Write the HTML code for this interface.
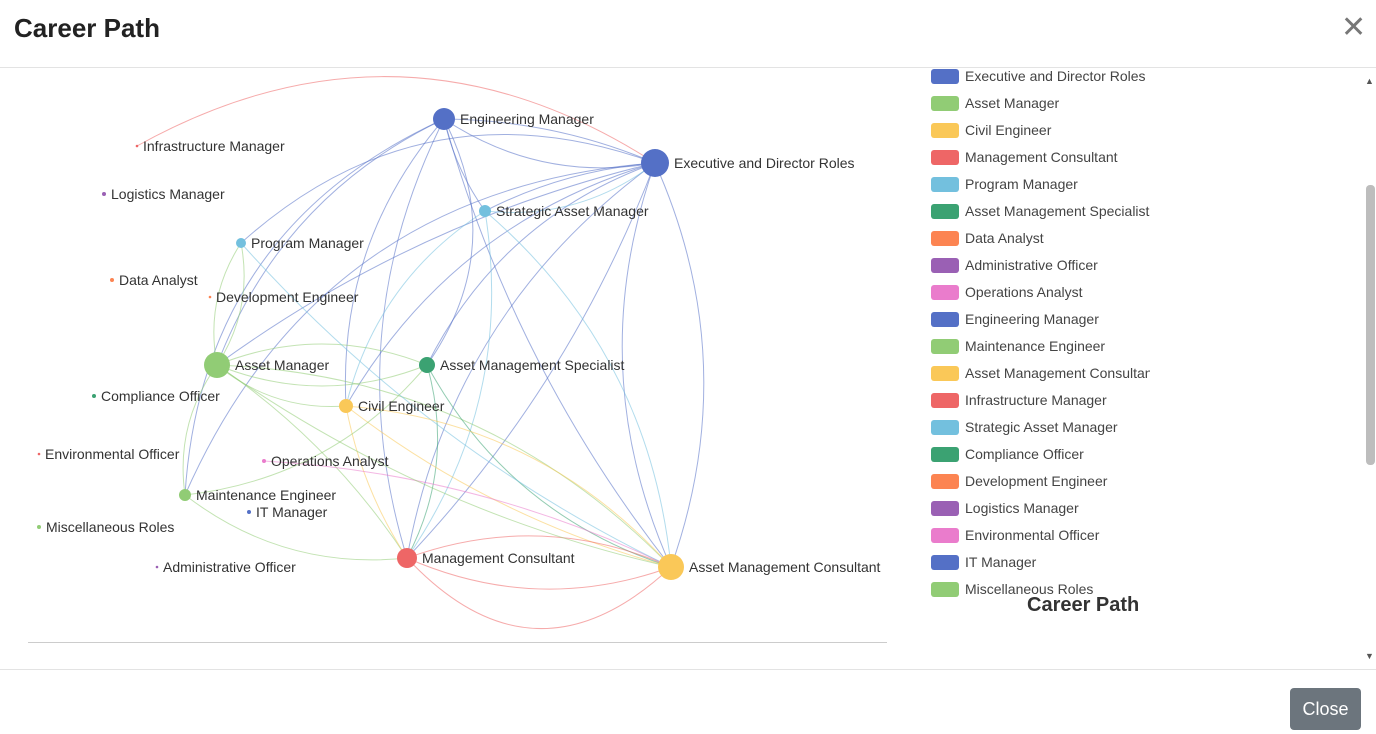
<!DOCTYPE html>
<html><head><meta charset="utf-8"><style>
body{margin:0;width:1376px;height:734px;background:#fff;font-family:"Liberation Sans",sans-serif;position:relative;overflow:hidden}
.t{position:absolute;left:14px;top:13px;font-size:26px;font-weight:bold;color:#222}
.x{position:absolute;left:1341px;top:10px;font-size:30px;color:#777;font-weight:normal;font-family:"DejaVu Sans",sans-serif}
.hl{position:absolute;left:0;right:0;height:1px;background:#e3e3e3}
.btn{position:absolute;left:1290px;top:688px;width:71px;height:42px;background:#6c757d;color:#fff;font-size:18px;line-height:42px;text-align:center;border-radius:4px}
.lg{position:absolute;left:931px;font-size:14px;color:#444;white-space:nowrap;width:219px;overflow:hidden}
.lg i{display:inline-block;width:28px;height:15px;border-radius:3px;vertical-align:-3px;margin-right:6px}
.sb{position:absolute;left:1366px;top:185px;width:9px;height:280px;background:#bdbdbd;border-radius:4px}
</style></head><body>
<div class="t">Career Path</div><div class="x">✕</div>
<div class="hl" style="top:67px"></div><div class="hl" style="top:669px"></div>
<div style="position:absolute;left:28px;top:642px;width:859px;height:1px;background:#ccc"></div>
<svg id="g" width="900" height="640" style="position:absolute;left:0;top:0" font-family="Liberation Sans, sans-serif" font-size="14" fill="#333"></svg>
<div id="leg"></div>
<div style="position:absolute;left:1027px;top:594px;font-size:20px;font-weight:bold;color:#333">Career Path</div>
<div class="sb"></div>
<div style="position:absolute;left:1365px;top:76px;font-size:9px;color:#555">▲</div>
<div style="position:absolute;left:1365px;top:651px;font-size:9px;color:#555">▼</div>
<div class="btn">Close</div>
<script>
var C={b:"#5470c6",g:"#91cc75",y:"#fac858",r:"#ee6666",l:"#73c0de",d:"#3ba272",o:"#fc8452",p:"#9a60b4",k:"#ea7ccc"};
var N={EM:[444,119,11,"b","Engineering Manager"],EX:[655,163,14,"b","Executive and Director Roles"],SAM:[485,211,6,"l","Strategic Asset Manager"],PM:[241,243,5,"l","Program Manager"],AM:[217,365,13,"g","Asset Manager"],AMS:[427,365,8,"d","Asset Management Specialist"],CE:[346,406,7,"y","Civil Engineer"],OA:[264,461,2,"k","Operations Analyst"],ME:[185,495,6,"g","Maintenance Engineer"],IT:[249,512,2,"b","IT Manager"],MC:[407,558,10,"r","Management Consultant"],AMC:[671,567,13,"y","Asset Management Consultant"],IM:[137,146,1,"r","Infrastructure Manager"],LM:[104,194,2,"p","Logistics Manager"],DA:[112,280,2,"o","Data Analyst"],DE:[210,297,1,"o","Development Engineer"],CO:[94,396,2,"d","Compliance Officer"],EO:[39,454,1,"r","Environmental Officer"],MR:[39,527,2,"g","Miscellaneous Roles"],AO:[157,567,1,"p","Administrative Officer"]};
var E=[["IM","EX",-.3],["EM","EX",.2],["EM","EX",-.1],["EM","SAM",.1],["EM","MC",.2],["EM","AMC",.1],["EM","AM",.2],["EM","CE",.2],["EM","ME",.3],["EX","AMC",-.2],["EX","MC",-.1],["EX","AM",.1],["EX","PM",.3],["EX","SAM",.1],["EX","AMS",.2],["EX","CE",.2],["EX","MC",.2],["EX","ME",.3],["EX","AMC",.2],["SAM","AMC",-.2],["SAM","MC",-.2],["SAM","CE",.2],["SAM","EX",.2],["AM","AMS",.2],["AM","AMS",-.2],["AM","AMC",-.2],["AM","MC",-.1],["AM","ME",.2],["AM","PM",-.2],["AM","PM",.2],["AM","CE",.2],["AMS","MC",-.2],["AMS","AMC",.2],["CE","AMC",.1],["CE","MC",.1],["MC","AMC",.2],["MC","AMC",-.2],["MC","AMC",.5],["OA","AMC",-.1],["ME","MC",.2],["PM","AMC",.1],["ME","AMS",.2],["EM","AMS",-.3],["CE","AMC",-.2],["AM","AMC",.1]];
var s="";
E.forEach(function(e){var a=N[e[0]],b=N[e[1]],mx=(a[0]+b[0])/2,my=(a[1]+b[1])/2,dx=b[0]-a[0],dy=b[1]-a[1];var cx=mx-dy*e[2],cy=my+dx*e[2];s+='<path d="M'+a[0]+' '+a[1]+'Q'+cx+' '+cy+' '+b[0]+' '+b[1]+'" stroke="'+C[a[3]]+'" stroke-opacity=".55" fill="none" stroke-width="1"/>';});
for(var k in N){var n=N[k];s+='<circle cx="'+n[0]+'" cy="'+n[1]+'" r="'+Math.max(n[2],1.3)+'" fill="'+C[n[3]]+'"/><text x="'+(n[0]+n[2]+5)+'" y="'+(n[1]+5)+'">'+n[4]+'</text>';}
document.getElementById("g").innerHTML=s;
var L=[["b","Executive and Director Roles"],["g","Asset Manager"],["y","Civil Engineer"],["r","Management Consultant"],["l","Program Manager"],["d","Asset Management Specialist"],["o","Data Analyst"],["p","Administrative Officer"],["k","Operations Analyst"],["b","Engineering Manager"],["g","Maintenance Engineer"],["y","Asset Management Consultant"],["r","Infrastructure Manager"],["l","Strategic Asset Manager"],["d","Compliance Officer"],["o","Development Engineer"],["p","Logistics Manager"],["k","Environmental Officer"],["b","IT Manager"],["g","Miscellaneous Roles"]];
var h="";L.forEach(function(x,i){h+='<div class="lg" style="top:'+(68+i*27)+'px"><i style="background:'+C[x[0]]+'"></i>'+x[1]+'</div>';});
document.getElementById("leg").innerHTML=h;
</script>
</body></html>
